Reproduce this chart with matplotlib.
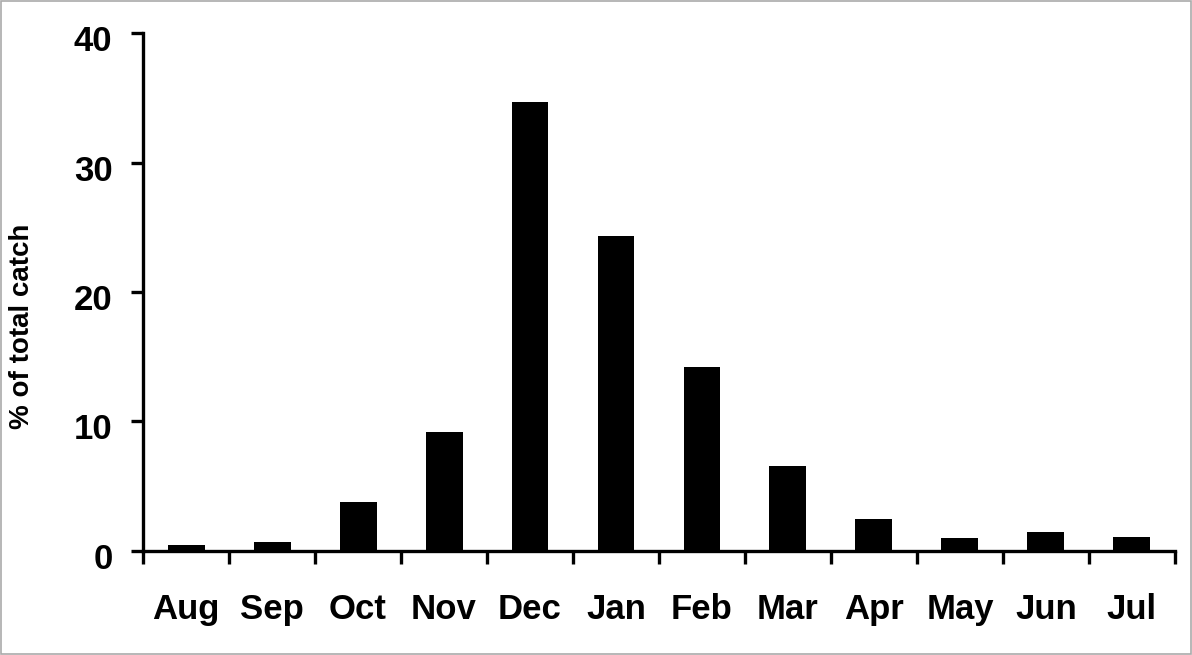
import matplotlib
matplotlib.use('Agg')
import matplotlib.pyplot as plt
import matplotlib.transforms as mtransforms
import numpy as np
from matplotlib.patches import Rectangle

months = ["Aug", "Sep", "Oct", "Nov", "Dec", "Jan", "Feb", "Mar", "Apr", "May", "Jun", "Jul"]
pct_catch = [0.45, 0.7, 3.8, 9.2, 34.7, 24.3, 14.2, 6.6, 2.5, 1.0, 1.5, 1.1]

plt.rcParams['font.family'] = ['Liberation Sans', 'DejaVu Sans']
plt.rcParams['font.weight'] = 'bold'

fig = plt.figure(figsize=(11.92, 6.55), dpi=100)
ax = fig.add_axes([0.12, 0.1588, 0.8657, 0.7908])

x = np.arange(len(months))
ax.bar(x, pct_catch, width=0.43, color="black", zorder=3)

ax.set_xlim(-0.5, len(months) - 0.5)
ax.set_ylim(0, 40)
ax.set_yticks([0, 10, 20, 30, 40])
ax.set_yticklabels(["0", "10", "20", "30", "40"], fontsize=25, fontweight="bold")

# ticks between categories, labels centred under bars
ax.set_xticks(np.arange(len(months) + 1) - 0.5)
ax.set_xticklabels([])
ax.set_xticks(x, minor=True)
ax.set_xticklabels(months, minor=True, fontsize=25, fontweight="bold")
ax.tick_params(axis="x", which="minor", length=0, pad=30)
ax.tick_params(axis="x", which="major", direction="out", length=9, width=2.4)
ax.tick_params(axis="y", direction="out", length=9, width=2.4, pad=13)

# y labels sit a little below their ticks
shift = mtransforms.ScaledTranslation(0, -5 / 100, fig.dpi_scale_trans)
for lbl in ax.get_yticklabels():
    lbl.set_transform(lbl.get_transform() + shift)

for s in ["top", "right"]:
    ax.spines[s].set_visible(False)
for s in ["left", "bottom"]:
    ax.spines[s].set_linewidth(2.4)

ax.set_ylabel("% of total catch", fontsize=20, fontweight="bold", labelpad=28, y=0.434)

fig.patches.append(Rectangle((0.001, 0.001), 0.998, 0.997, transform=fig.transFigure,
                             fill=False, edgecolor="#aaaaaa", linewidth=1.2))

fig.savefig("out.png", dpi=100)
